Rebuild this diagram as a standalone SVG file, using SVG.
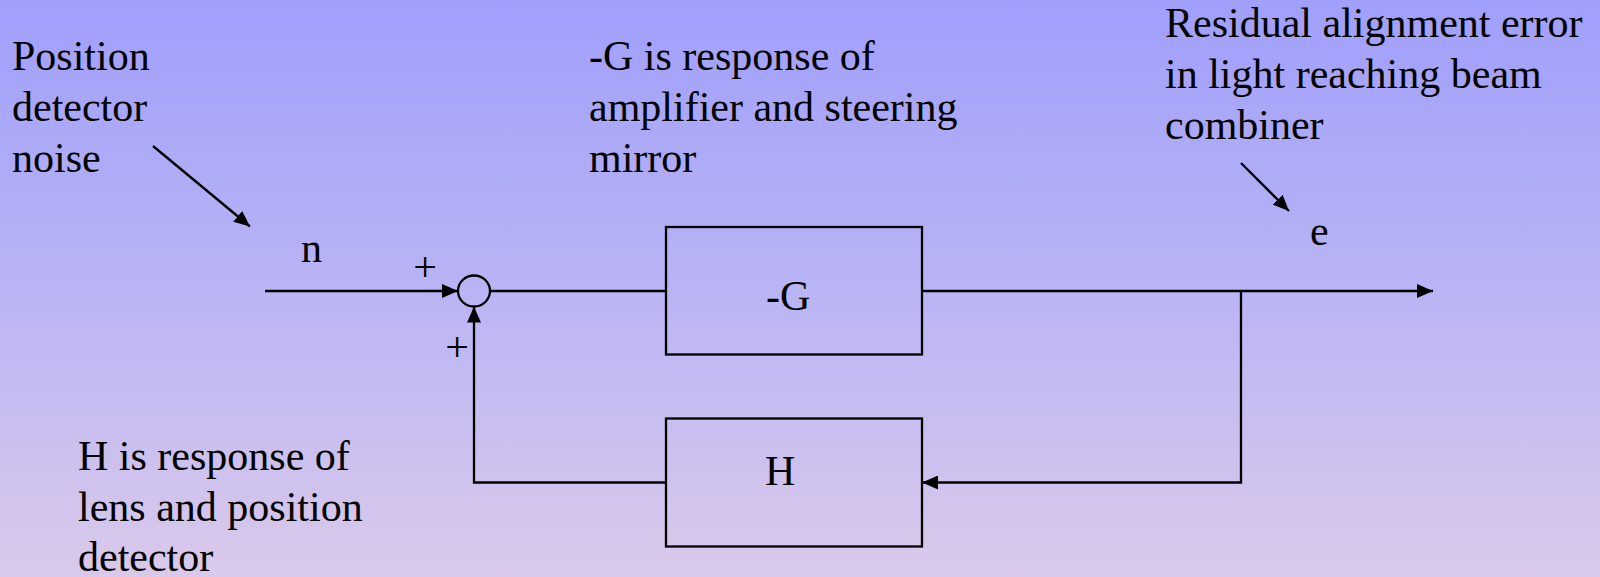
<svg xmlns="http://www.w3.org/2000/svg" width="1600" height="577" viewBox="0 0 1600 577">
<defs>
<linearGradient id="bg" x1="0" y1="0" x2="0" y2="1">
<stop offset="0" stop-color="#a09ffb"/>
<stop offset="0.5" stop-color="#b9b4f4"/>
<stop offset="1" stop-color="#dac9ea"/>
</linearGradient>
<marker id="ah" viewBox="0 0 16 14" refX="16" refY="7" markerWidth="16" markerHeight="14" markerUnits="userSpaceOnUse" orient="auto">
<path d="M0,0 L16,7 L0,14 Z" fill="#000"/>
</marker>
</defs>
<style>
.ln{fill:none;stroke:#000;stroke-width:2.3}
.box{fill:none;stroke:#000;stroke-width:2.3}
</style>
<rect width="1600" height="577" fill="url(#bg)"/>
<g font-family="Liberation Serif, Times New Roman, serif" font-size="42" fill="#000">
<g id="label-noise">
<text x="12" y="70">Position</text>
<text x="12" y="121">detector</text>
<text x="12" y="172">noise</text>
</g>
<g id="label-G">
<text x="589" y="70">-G is response of</text>
<text x="589" y="121">amplifier and steering</text>
<text x="589" y="172">mirror</text>
</g>
<g id="label-e-desc">
<text x="1165" y="37">Residual alignment error</text>
<text x="1165" y="88">in light reaching beam</text>
<text x="1165" y="139">combiner</text>
</g>
<g id="label-H">
<text x="78" y="470">H is response of</text>
<text x="78" y="521">lens and position</text>
<text x="78" y="571">detector</text>
</g>
<g id="n"><text x="301" y="262">n</text></g>
<g id="e"><text x="1310" y="245">e</text></g>
<g id="plus1"><text x="425" y="281" text-anchor="middle">+</text></g>
<g id="plus2"><text x="457" y="361" text-anchor="middle">+</text></g>
<g id="sum"><ellipse cx="474" cy="291" rx="16" ry="15.5" class="box"/></g>
<g id="G"><rect x="666" y="227" width="256" height="127.5" class="box"/><text x="766" y="310">-G</text></g>
<g id="H"><rect x="666" y="418.5" width="256" height="128" class="box"/><text x="765" y="485">H</text></g>
</g>
<g id="connectors">
<line x1="153" y1="146" x2="250" y2="226.5" class="ln" marker-end="url(#ah)"/>
<line x1="1241" y1="163" x2="1289" y2="211" class="ln" marker-end="url(#ah)"/>
<line x1="265" y1="291" x2="458" y2="291" class="ln" marker-end="url(#ah)"/>
<line x1="490" y1="291" x2="666" y2="291" class="ln"/>
<line x1="922" y1="291" x2="1433" y2="291" class="ln" marker-end="url(#ah)"/>
<polyline points="1241,291 1241,482.5 922,482.5" class="ln" marker-end="url(#ah)"/>
<polyline points="666,482.5 474,482.5 474,306.5" class="ln" marker-end="url(#ah)"/>
</g>
</svg>
